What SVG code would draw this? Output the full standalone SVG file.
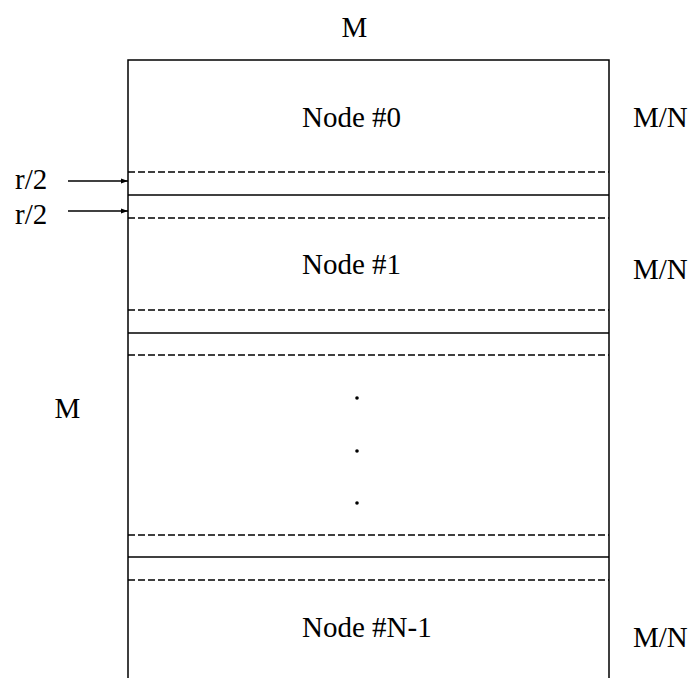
<svg xmlns="http://www.w3.org/2000/svg" width="697" height="678" viewBox="0 0 697 678">
<defs>
<style>
text{font-family:"Liberation Serif","Times New Roman",serif;font-size:29px;fill:#000}
.solid{stroke:#000;stroke-width:1.5;fill:none}
.dash{stroke:#000;stroke-width:1.3;stroke-dasharray:7 3;fill:none}
.arr{stroke:#000;stroke-width:1.5;fill:none;marker-end:url(#ah)}
</style>
<marker id="ah" viewBox="0 0 10 10" refX="10" refY="5" markerWidth="10" markerHeight="7" markerUnits="userSpaceOnUse" orient="auto">
<path d="M0,1.5 L10,5 L0,8.5 z" fill="#000"/>
</marker>
</defs>
<rect width="697" height="678" fill="#fff"/>
<g id="frame">
<path class="solid" d="M128,678 V60 H609 V678"/>
</g>
<g id="bands">
<line class="dash" x1="128" y1="172" x2="609" y2="172"/>
<line class="solid" x1="128" y1="195" x2="609" y2="195"/>
<line class="dash" x1="128" y1="218" x2="609" y2="218"/>
<line class="dash" x1="128" y1="310" x2="609" y2="310"/>
<line class="solid" x1="128" y1="333" x2="609" y2="333"/>
<line class="dash" x1="128" y1="355" x2="609" y2="355"/>
<line class="dash" x1="128" y1="535" x2="609" y2="535"/>
<line class="solid" x1="128" y1="557" x2="609" y2="557"/>
<line class="dash" x1="128" y1="580" x2="609" y2="580"/>
</g>
<g id="connectors">
<line class="arr" x1="68" y1="181" x2="128" y2="181"/>
<line class="arr" x1="68" y1="211" x2="128" y2="211"/>
</g>
<g id="node0"><text x="302" y="127">Node #0</text></g>
<g id="node1"><text x="302" y="274">Node #1</text></g>
<g id="nodeN1"><text x="302" y="637">Node #N-1</text></g>
<g id="labels">
<text x="354.5" y="37" text-anchor="middle">M</text>
<text x="67.5" y="418" text-anchor="middle">M</text>
<text x="633" y="127">M/N</text>
<text x="633" y="279">M/N</text>
<text x="633" y="647">M/N</text>
<text x="15" y="189">r/2</text>
<text x="15" y="224">r/2</text>
</g>
<g id="dots">
<circle cx="357" cy="398" r="1.8"/>
<circle cx="357" cy="451" r="1.8"/>
<circle cx="357" cy="503" r="1.8"/>
</g>
</svg>
